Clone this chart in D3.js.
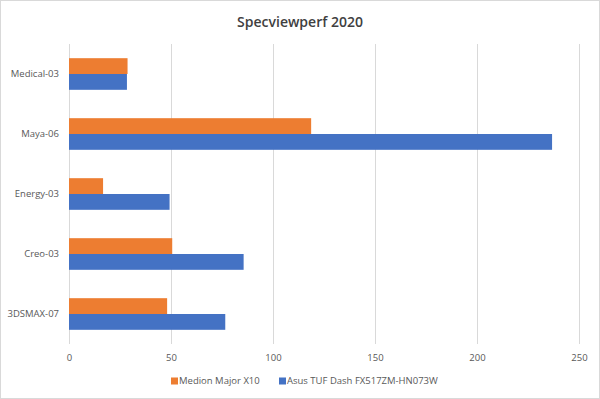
<!DOCTYPE html>
<html>
<head>
<meta charset="utf-8">
<script src="https://cdn.jsdelivr.net/npm/d3@7"></script>
<style>
  body { margin: 0; background: #fff; }
  text { font-family: "Open Sans", sans-serif; }
</style>
</head>
<body>
<div id="wrapper"></div>
<script>
const categories = ["Medical-03", "Maya-06", "Energy-03", "Creo-03", "3DSMAX-07"];
const seriesNames = ["Medion Major X10", "Asus TUF Dash FX517ZM-HN073W"];
const medionValues = [28.7, 118.7, 16.7, 50.6, 48.1];
const asusValues = [28.4, 236.8, 49.3, 85.6, 76.6];
const xTicks = [0, 50, 100, 150, 200, 250];
const colors = ["#ED7D31", "#4472C4"];

function draw() {
  const dimensions = {
    width: 600,
    height: 399,
    margin: { top: 44, right: 21, bottom: 55, left: 69 }
  };
  dimensions.boundedWidth = dimensions.width - dimensions.margin.left - dimensions.margin.right;
  dimensions.boundedHeight = dimensions.height - dimensions.margin.top - dimensions.margin.bottom;

  const svg = d3.select("#wrapper")
    .append("svg")
      .attr("width", dimensions.width)
      .attr("height", dimensions.height);

  // outer frame
  svg.append("rect")
    .attr("x", 0.5).attr("y", 0.5)
    .attr("width", dimensions.width - 1).attr("height", dimensions.height - 1)
    .attr("fill", "#fff")
    .attr("stroke", "#d9d9d9");

  svg.append("text")
    .attr("x", dimensions.width / 2)
    .attr("y", 27)
    .attr("text-anchor", "middle")
    .attr("font-size", 14)
    .attr("font-weight", 600)
    .attr("fill", "#404040")
    .text("Specviewperf 2020");

  const bounds = svg.append("g")
    .attr("transform", "translate(" + dimensions.margin.left + "," + dimensions.margin.top + ")");

  // Scales
  const x = d3.scaleLinear()
    .domain([0, 250])
    .range([0, dimensions.boundedWidth]);

  const y = d3.scaleBand()
    .domain(categories)
    .range([0, dimensions.boundedHeight])
    .paddingInner(0.473)
    .paddingOuter(0.2365);

  const sub = d3.scaleBand()
    .domain(seriesNames)
    .range([0, y.bandwidth()]);

  // gridlines
  bounds.append("g")
    .selectAll("line")
    .data(xTicks)
    .join("line")
      .attr("x1", d => Math.round(x(d)) + 0.5)
      .attr("x2", d => Math.round(x(d)) + 0.5)
      .attr("y1", 0)
      .attr("y2", dimensions.boundedHeight)
      .attr("stroke", "#d9d9d9")
      .attr("stroke-width", 1);

  // bars
  const rows = categories.map((c, i) => ({ cat: c, values: [medionValues[i], asusValues[i]] }));

  const groups = bounds.selectAll(".cat")
    .data(rows)
    .join("g")
      .attr("class", "cat")
      .attr("transform", d => "translate(0," + y(d.cat) + ")");

  groups.selectAll("rect")
    .data(d => d.values.map((v, j) => ({ name: seriesNames[j], value: v, color: colors[j] })))
    .join("rect")
      .attr("x", x(0))
      .attr("y", d => sub(d.name))
      .attr("width", d => x(d.value) - x(0))
      .attr("height", sub.bandwidth())
      .attr("fill", d => d.color);

  // category labels
  bounds.append("g")
    .selectAll("text")
    .data(categories)
    .join("text")
      .attr("x", -10)
      .attr("y", d => y(d) + y.bandwidth() / 2)
      .attr("dy", "0.35em")
      .attr("text-anchor", "end")
      .attr("font-size", 9.5)
      .attr("fill", "#595959")
      .text(d => d);

  // x axis labels
  const xAxis = d3.axisBottom(x)
    .tickValues(xTicks)
    .tickSize(0)
    .tickPadding(10);
  const xAxisGroup = bounds.append("g")
    .attr("transform", "translate(0," + dimensions.boundedHeight + ")")
    .call(xAxis);
  xAxisGroup.select(".domain").remove();
  xAxisGroup.selectAll("text")
    .attr("font-family", "Open Sans, sans-serif")
    .attr("font-size", 9.5)
    .attr("fill", "#595959");

  // legend
  const legendX = [171, 279];
  const legend = svg.append("g")
    .selectAll("g")
    .data(seriesNames)
    .join("g")
      .attr("transform", (d, i) => "translate(" + legendX[i] + ",381)");
  legend.append("rect")
    .attr("x", 0).attr("y", -3.5)
    .attr("width", 7).attr("height", 7)
    .attr("fill", (d, i) => colors[i]);
  legend.append("text")
    .attr("x", 8)
    .attr("dy", "0.35em")
    .attr("font-size", 9.5)
    .attr("fill", "#595959")
    .text(d => d);
}
draw();
</script>
</body>
</html>
